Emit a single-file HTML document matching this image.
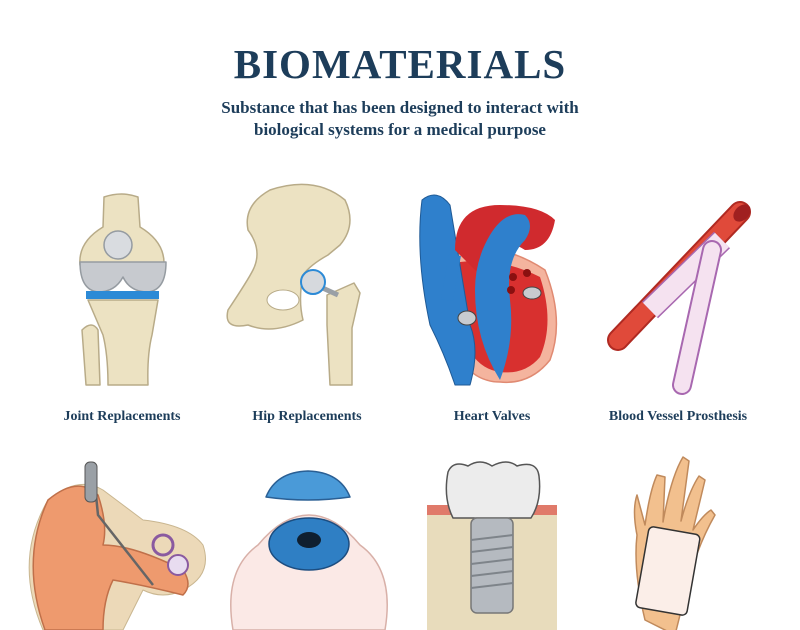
<!DOCTYPE html>
<html><head><meta charset="utf-8"><style>
body{margin:0;background:#fff;width:800px;height:630px;overflow:hidden;font-family:"Liberation Serif",serif;}
.t{position:absolute;width:800px;text-align:center;color:#1d3d5a;font-weight:bold;}
.l{position:absolute;top:409px;font-size:14px;color:#1d3d5a;font-weight:bold;text-align:center;width:200px;}
</style></head><body>
<div class="t" style="top:40px;font-size:41px;letter-spacing:1px">BIOMATERIALS</div>
<div class="t" style="top:97px;font-size:17px;line-height:22px">Substance that has been designed to interact with<br>biological systems for a medical purpose</div>
<div class="l" style="left:22px">Joint Replacements</div>
<div class="l" style="left:207px">Hip Replacements</div>
<div class="l" style="left:392px">Heart Valves</div>
<div class="l" style="left:578px">Blood Vessel Prosthesis</div>
<svg width="800" height="630" style="position:absolute;left:0;top:0" stroke-linejoin="round">
<!-- knee -->
<g stroke="#b8ab88" stroke-width="1.5" fill="#ece2c2">
<path d="M104 197 q18-6 34 0 l2 30 q25 15 24 38 h-84 q-2-23 23-38z"/>
<path d="M88 300 h70 l-6 35 q-5 20-4 50 h-40 q0-30-5-50 z"/>
<path d="M82 330 q10-10 16 0 l2 55 h-14z"/>
</g>
<path d="M80 262 h86 q0 28-18 30 q-18 0-25-15 q-8 15-25 15 q-18-2-18-30z" fill="#c7cacf" stroke="#959ba1" stroke-width="1.5"/>
<circle cx="118" cy="245" r="14" fill="#d9dce0" stroke="#959ba1" stroke-width="1.5"/>
<rect x="86" y="291" width="73" height="8" fill="#2c8ad6"/>
<!-- hip -->
<g stroke="#b8ab88" stroke-width="1.5" fill="#ece2c2">
<path d="M270 190 q45-15 75 10 q12 25-5 45 l-12 10 q-18 10-25 20 q-5 25 0 45 q-30 15-55 5 q-25 5-20-15 q20-30 25-40 q10-20-5-40 q-5-25 22-40z"/>
<path d="M327 295 l27-12 l6 10 l-8 35 l0 57 h-22 l-3-60 z"/>
</g>
<ellipse cx="283" cy="300" rx="16" ry="10" fill="#fff" stroke="#b8ab88"/>
<path d="M316 285 l22 10" stroke="#9aa0a6" stroke-width="5"/>
<circle cx="313" cy="282" r="12" fill="#d6d9dd" stroke="#2c8ad6" stroke-width="2"/>
<!-- heart -->
<path d="M450 250 q50-10 95 20 q20 50 5 90 q-20 25-50 22 q-40 0-55-60z" fill="#f4b49e" stroke="#e08a72" stroke-width="1.5"/>
<path d="M460 262 q40-5 80 15 q15 45 0 80 q-15 18-40 15 q-35-5-42-60z" fill="#d8302f"/>
<path d="M422 200 q15-12 28 5 l20 120 q10 25 0 60 h-15 q-10-30-25-60 q-15-70-8-125z" fill="#2f80cc" stroke="#1f5a96" stroke-width="1"/>
<path d="M455 250 q0-45 45-45 q40 0 55 15 q-5 30-30 30 q-15-10-30-5 q-10 10-15 30z" fill="#d02a2e"/>
<path d="M490 235 q15-25 35-20 q10 10 0 25 q-20 20-15 60 q5 40-10 80 q-25-40-25-90 q0-30 15-55z" fill="#2f80cc"/>
<circle cx="513" cy="277" r="4" fill="#8a1010"/><circle cx="527" cy="273" r="4" fill="#8a1010"/><circle cx="511" cy="290" r="4" fill="#8a1010"/>
<path d="M455 255 l-8 45" stroke="#2f80cc" stroke-width="12"/>
<ellipse cx="467" cy="318" rx="9" ry="7" fill="#c8cbd0" stroke="#444"/>
<ellipse cx="532" cy="293" rx="9" ry="6" fill="#c8cbd0" stroke="#444"/>
<!-- vessel -->
<path d="M740 212 L618 340" stroke="#b02a22" stroke-width="22" stroke-linecap="round" fill="none"/>
<path d="M740 212 L618 340" stroke="#e04a3a" stroke-width="18" stroke-linecap="round" fill="none"/>
<path d="M722 240 L650 310" stroke="#a868b0" stroke-width="23" fill="none"/>
<path d="M722 240 L650 310" stroke="#f5e2f0" stroke-width="20" fill="none"/>
<path d="M712 250 L682 385" stroke="#a868b0" stroke-width="20" stroke-linecap="round" fill="none"/>
<path d="M712 250 L682 385" stroke="#f5e2f0" stroke-width="16" stroke-linecap="round" fill="none"/>
<ellipse cx="742" cy="213" rx="7" ry="10" fill="#a02020" transform="rotate(45 742 213)"/>
<!-- ear -->
<path d="M48 500 q30-25 55-10 l40 30 q45 5 60 25 q10 30-20 45 q-20 10-40 0 l-20 40 h-80 q-30-70 5-130z" fill="#ecd9b8" stroke="#c9b690" stroke-width="1"/>
<path d="M48 500 q30-25 50-5 q10 30 5 50 q30 0 80 25 q10 15 0 25 q-40-10-70-15 q-10 20-10 50 h-58 q-25-70 3-130z" fill="#ee9a6e" stroke="#c0704a" stroke-width="1.5"/>
<circle cx="163" cy="545" r="10" fill="none" stroke="#8a5aa0" stroke-width="3"/>
<circle cx="178" cy="565" r="10" fill="#e8dcf0" stroke="#8a5aa0" stroke-width="2"/>
<path d="M94 475 l4 40 l55 70" stroke="#666" stroke-width="2.5" fill="none"/>
<rect x="85" y="462" width="12" height="40" rx="5" fill="#9aa0a6" stroke="#555"/>
<!-- eye -->
<path d="M266 497 q10-25 42-26 q32 1 42 26 q-42 6-84 0z" fill="#4a9ad8" stroke="#2a5f94" stroke-width="1.5"/>
<path d="M233 630 q-10-60 25-85 q25-30 51-30 q26 0 51 30 q35 25 25 85z" fill="#fbe9e6" stroke="#d8b0a8" stroke-width="1.5"/>
<ellipse cx="309" cy="544" rx="40" ry="26" fill="#2f7fc4" stroke="#1c4d80" stroke-width="1.5"/>
<ellipse cx="309" cy="540" rx="12" ry="8" fill="#0f1f30"/>
<!-- tooth -->
<rect x="427" y="510" width="130" height="120" fill="#e8dcbc"/>
<path d="M427 505 h130 v10 h-130z" fill="#e07a6a"/>
<path d="M448 472 q5-12 20-6 q12 -8 24 0 q15 -8 25 0 q20-6 22 10 q3 25-8 42 h-78 q-10-20-5-46z" fill="#ececec" stroke="#555" stroke-width="1.5"/>
<rect x="471" y="518" width="42" height="95" rx="6" fill="#b5bac0" stroke="#777" stroke-width="1.5"/>
<g stroke="#7e848a" stroke-width="2"><line x1="471" y1="540" x2="513" y2="535"/><line x1="471" y1="552" x2="513" y2="547"/><line x1="471" y1="564" x2="513" y2="559"/><line x1="471" y1="576" x2="513" y2="571"/><line x1="471" y1="588" x2="513" y2="583"/></g>
<!-- hand -->
<path d="M645 620 q-12-50-8-85 q-5-25 0-40 l8 30 q5-35 12-50 l8 2 l-2 45 q8-45 20-65 l6 4 l-8 60 q8-30 18-45 l6 4 l-12 50 q10-15 18-20 l4 5 q-20 35-30 80 l-10 40 z" fill="#f2c08e" stroke="#c08a5c" stroke-width="1.5"/>
<rect x="642" y="530" width="52" height="82" rx="5" fill="#fbeee8" stroke="#333" stroke-width="1.5" transform="rotate(10 668 570)"/>
</svg>
</body></html>
